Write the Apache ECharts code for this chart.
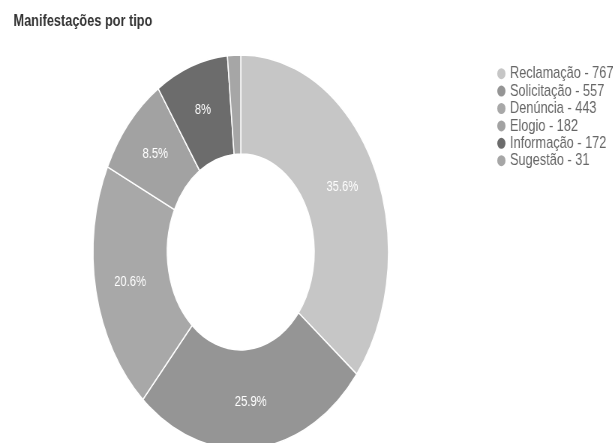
<!DOCTYPE html>
<html>
<head>
<meta charset="utf-8">
<script src="https://cdn.jsdelivr.net/npm/echarts@6/dist/echarts.min.js"></script>
<style>
  html, body { margin: 0; padding: 0; background: #fff; overflow: hidden; width: 613px; height: 443px; }
  #chart { width: 817px; height: 443px; transform: scaleX(0.75); transform-origin: 0 0; }
</style>
</head>
<body>
<div id="chart"></div>
<script>
const categories = ['Reclamação', 'Solicitação', 'Denúncia', 'Elogio', 'Informação', 'Sugestão'];
const values = [767, 557, 443, 182, 172, 31];
const colors = ['#c6c6c6', '#959595', '#a8a8a8', '#a2a2a2', '#6c6c6c', '#a6a6a6'];
const titleText = 'Manifestações por tipo';

const chart = echarts.init(document.getElementById('chart'), null, { renderer: 'canvas' });
const data = categories.map((c, i) => ({ name: c, value: values[i], itemStyle: { color: colors[i] } }));

chart.setOption({
  animation: false,
  backgroundColor: '#ffffff',
  title: {
    text: titleText,
    left: 13,
    top: 8,
    textStyle: { fontFamily: 'Liberation Sans, Arial, sans-serif', fontSize: 17, fontWeight: 'bold', color: '#333' }
  },
  legend: {
    orient: 'vertical',
    left: 656,
    top: 60,
    icon: 'circle',
    itemWidth: 13,
    itemHeight: 13,
    itemGap: 0,
    textStyle: { fontFamily: 'Liberation Sans, Arial, sans-serif', fontSize: 17, lineHeight: 17.4, color: '#666666' },
    formatter: function (name) {
      const i = categories.indexOf(name);
      return name + ' - ' + values[i];
    }
  },
  series: [{
    type: 'pie',
    center: [321, 252],
    radius: [98, 197],
    startAngle: 90,
    clockwise: true,
    avoidLabelOverlap: false,
    percentPrecision: 1,
    itemStyle: { borderColor: '#ffffff', borderWidth: 1.5 },
    label: {
      show: true,
      position: 'inside',
      color: '#ffffff',
      fontFamily: 'Liberation Sans, Arial, sans-serif',
      fontSize: 15,
      formatter: function (p) { return p.percent < 3 ? '' : p.percent + '%'; }
    },
    labelLine: { show: false },
    emphasis: { disabled: true },
    data: data
  }]
});
</script>
</body>
</html>
